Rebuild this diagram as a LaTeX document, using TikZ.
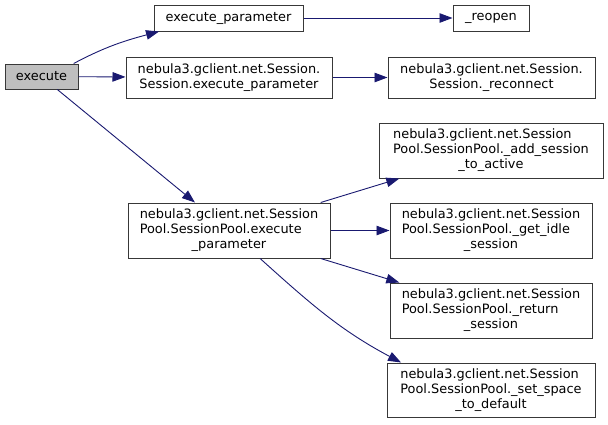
\documentclass[tikz,border=0pt]{standalone}
\usepackage{fontspec}
\setmainfont{DejaVu Sans}
\usetikzlibrary{arrows.meta,positioning}
\definecolor{edgeblue}{RGB}{25,25,112}
\definecolor{boxgrey}{RGB}{191,191,191}
\definecolor{boxline}{RGB}{56,56,56}
\newcommand{\threelines}[3]{\begin{tabular}{@{}l@{}}#1\\#2\\\multicolumn{1}{@{}c@{}}{#3}\end{tabular}}

\begin{document}
\begin{tikzpicture}[x=1pt, y=-1pt,
    fn/.style={rectangle, draw=boxline, line width=1pt, fill=white, inner sep=0pt,
        font=\fontsize{12.9}{15}\selectfont, align=center},
    root/.style={fn, fill=boxgrey},
    arr/.style={-{Triangle[length=13pt, width=9.5pt]}, edgeblue, line width=0.9pt}]

    \useasboundingbox (0,0) rectangle (608,424);

    % Caller
    \node[root, minimum width=73pt, minimum height=25pt] (execute) at (41.5,76.5) {execute};

    % Direct callees
    \node[fn, minimum width=149pt, minimum height=26pt] (xparam) at (228.5,18) {execute\_parameter};
    \node[fn, minimum width=206pt, minimum height=41pt] (sexec) at (229,77.5)
        {nebula3.gclient.net.Session.\\Session.execute\_parameter};
    \node[fn, minimum width=202pt, minimum height=55pt] (pexec) at (229,230.5)
        {\threelines{nebula3.gclient.net.Session}{Pool.SessionPool.execute}{\_parameter}};

    % Second level
    \node[fn, minimum width=76pt, minimum height=26pt] (reopen) at (491,18) {\_reopen};
    \node[fn, minimum width=207pt, minimum height=41pt] (reconnect) at (491.5,77.5)
        {nebula3.gclient.net.Session.\\Session.\_reconnect};
    \node[fn, minimum width=224pt, minimum height=55pt] (addactive) at (491,150.5)
        {\threelines{nebula3.gclient.net.Session}{Pool.SessionPool.\_add\_session}{\_to\_active}};
    \node[fn, minimum width=202pt, minimum height=55pt] (getidle) at (491,230.5)
        {\threelines{nebula3.gclient.net.Session}{Pool.SessionPool.\_get\_idle}{\_session}};
    \node[fn, minimum width=202pt, minimum height=55pt] (retsession) at (491,310.5)
        {\threelines{nebula3.gclient.net.Session}{Pool.SessionPool.\_return}{\_session}};
    \node[fn, minimum width=208pt, minimum height=54pt] (setspace) at (491,390)
        {\threelines{nebula3.gclient.net.Session}{Pool.SessionPool.\_set\_space}{\_to\_default}};

    % Calls
    \draw[arr] (execute.22) to[out=28, in=195] (xparam.191);
    \draw[arr] (execute) -- (sexec);
    \draw[arr] (execute) -- (pexec);
    \draw[arr] (xparam) -- (reopen);
    \draw[arr] (sexec) -- (reconnect);
    \foreach \j in {addactive,getidle,retsession} { \draw[arr] (pexec) -- (\j); }
    \draw[arr] (pexec.-42) to[out=-42, in=152] (setspace.163);
\end{tikzpicture}
\end{document}
